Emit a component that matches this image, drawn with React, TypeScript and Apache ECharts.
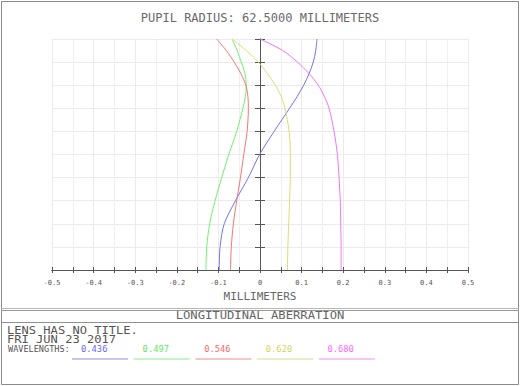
import React, { useEffect, useRef } from 'react';
import * as echarts from 'echarts';

// Normalized pupil height (vertical axis)
const pupilHeights = [0, 0.1, 0.2, 0.3, 0.4, 0.5, 0.6, 0.7, 0.75, 0.8, 0.85, 0.9, 0.95, 1.0];

// Longitudinal focus shift (mm) per wavelength
const shift436 = [-0.098, -0.096, -0.086, -0.059, -0.028, -0.001, 0.034, 0.071, 0.089, 0.105, 0.118, 0.128, 0.134, 0.137];
const shift497 = [-0.130, -0.128, -0.121, -0.108, -0.092, -0.075, -0.056, -0.041, -0.035, -0.033, -0.036, -0.045, -0.055, -0.067];
const shift546 = [-0.071, -0.069, -0.064, -0.056, -0.047, -0.039, -0.031, -0.028, -0.029, -0.034, -0.046, -0.062, -0.081, -0.104];
const shift620 = [0.066, 0.067, 0.069, 0.071, 0.073, 0.073, 0.070, 0.060, 0.051, 0.037, 0.018, -0.004, -0.033, -0.067];
const shift680 = [0.195, 0.195, 0.194, 0.193, 0.190, 0.186, 0.178, 0.166, 0.155, 0.140, 0.118, 0.090, 0.055, 0.0];

const wavelengths = ['0.436', '0.497', '0.546', '0.620', '0.680'];
const shifts = [shift436, shift497, shift546, shift620, shift680];

const xTickLabels = ['-0.5', '-0.4', '-0.3', '-0.2', '-0.1', '0', '0.1', '0.2', '0.3', '0.4', '0.5'];

const lineColors = ['#7272f6', '#72f072', '#f67474', '#dcdc74', '#f674f6'];
const textColors = ['#6868ff', '#62e862', '#ff6868', '#d4d45e', '#ff68ff'];
const underlineColors = ['#b4b4ec', '#b4f0b4', '#f0b4b4', '#e6e6b4', '#f0b4f0'];

const titleText = 'PUPIL RADIUS: 62.5000 MILLIMETERS';
const axisName = 'MILLIMETERS';
const plotName = 'LONGITUDINAL ABERRATION';
const lensLines = ['LENS HAS NO TITLE.', 'FRI JUN 23 2017'];
const wlLabel = 'WAVELENGTHS:';

const MONO = '"DejaVu Sans Mono", "Liberation Mono", monospace';

export default function App() {
  const ref = useRef<HTMLDivElement>(null);

  useEffect(() => {
    if (!ref.current) return;
    const chart = echarts.init(ref.current, undefined, { renderer: 'svg' });

    const series = wavelengths.map((w, i) => ({
      type: 'line',
      name: w,
      data: pupilHeights.map((y, j) => [shifts[i][j], y]),
      smooth: 0.3,
      showSymbol: false,
      symbol: 'none',
      xAxisIndex: 0,
      yAxisIndex: 0,
      lineStyle: { width: 1, color: lineColors[i] },
      itemStyle: { color: lineColors[i] },
      z: 3,
    }));

    const graphics: any[] = [
      {
        type: 'rect',
        shape: { x: 1.5, y: 1.5, width: 517, height: 383 },
        style: { fill: 'none', stroke: '#8a8a8a', lineWidth: 1 },
        silent: true,
      },
      { type: 'line', shape: { x1: 1, y1: 308.5, x2: 519, y2: 308.5 }, style: { stroke: '#b8b8b8', lineWidth: 1 } },
      { type: 'line', shape: { x1: 1, y1: 310.5, x2: 519, y2: 310.5 }, style: { stroke: '#999999', lineWidth: 1 } },
      { type: 'line', shape: { x1: 1, y1: 322.5, x2: 519, y2: 322.5 }, style: { stroke: '#909090', lineWidth: 1 } },
      {
        type: 'text',
        x: 260,
        y: 316,
        scaleX: 1.22,
        style: { text: plotName, fill: '#666', font: `10px ${MONO}`, textAlign: 'center', textVerticalAlign: 'middle' },
      },
      ...lensLines.map((t, i) => ({
        type: 'text',
        x: 7,
        y: 330.5 + i * 9,
        scaleX: 1.21,
        style: { text: t, fill: '#555', font: `10px ${MONO}`, textAlign: 'left', textVerticalAlign: 'middle' },
      })),
      {
        type: 'text',
        x: 8,
        y: 349.5,
        scaleX: 1.07,
        style: { text: wlLabel, fill: '#555', font: `8px ${MONO}`, textAlign: 'left', textVerticalAlign: 'middle' },
      },
      ...wavelengths.map((w, i) => ({
        type: 'text',
        x: 81 + i * 61.6,
        y: 349.5,
        scaleX: 1.1,
        style: { text: w, fill: textColors[i], font: `8px ${MONO}`, textAlign: 'left', textVerticalAlign: 'middle' },
      })),
      ...wavelengths.map((w, i) => ({
        type: 'line',
        shape: { x1: 72 + i * 61.7, y1: 359, x2: 128 + i * 61.7, y2: 359 },
        style: { stroke: underlineColors[i], lineWidth: 1.5 },
      })),
    ];

    const commonX = {
      type: 'value',
      min: -0.5,
      max: 0.5,
      interval: 0.1,
      axisLine: { onZero: false, lineStyle: { color: '#555', width: 1 } },
    };
    const commonY = {
      type: 'value',
      min: 0,
      max: 1,
      interval: 0.1,
      position: 'left',
      axisLabel: { show: false },
      axisLine: { show: true, onZero: true, onZeroAxisIndex: 0, lineStyle: { color: '#555', width: 1 } },
    };

    chart.setOption({
      animation: false,
      backgroundColor: '#ffffff',
      title: {
        text: titleText,
        left: 'center',
        top: 12,
        padding: 0,
        textStyle: { fontFamily: MONO, fontSize: 12, fontWeight: 'normal', color: '#6a6a6a' },
      },
      grid: { left: 52, right: 52, top: 39, bottom: 116, containLabel: false },
      xAxis: [
        {
          ...commonX,
          name: axisName,
          nameLocation: 'middle',
          nameGap: 16,
          nameTextStyle: { fontFamily: MONO, fontSize: 11, color: '#666' },
          axisTick: { show: true, inside: true, length: 3, lineStyle: { color: '#555' } },
          minorTick: { show: true, splitNumber: 2, length: 3, lineStyle: { color: '#555' } },
          axisLabel: {
            show: true,
            margin: 9,
            fontFamily: MONO,
            fontSize: 7,
            color: '#555',
            formatter: (v: number) => {
              const i = Math.round((v + 0.5) * 10);
              return xTickLabels[i] ?? '';
            },
          },
          splitLine: { show: true, lineStyle: { color: '#ebebeb', width: 1 } },
          minorSplitLine: { show: true, lineStyle: { color: '#efefef', width: 1 } },
        },
        {
          ...commonX,
          position: 'bottom',
          axisTick: { show: true, inside: false, length: 3, lineStyle: { color: '#555' } },
          minorTick: { show: true, splitNumber: 2, length: 3, lineStyle: { color: '#555' } },
          axisLabel: { show: false },
          splitLine: { show: false },
        },
      ],
      yAxis: [
        {
          ...commonY,
          axisTick: { show: true, inside: false, length: 5, lineStyle: { color: '#555' } },
          splitLine: { show: true, lineStyle: { color: '#ebebeb', width: 1 } },
        },
        {
          ...commonY,
          axisTick: { show: true, inside: true, length: 5, lineStyle: { color: '#555' } },
          splitLine: { show: false },
        },
      ],
      series,
      graphic: graphics,
    });

    return () => chart.dispose();
  }, []);

  return (
    <div
      ref={ref}
      style={{ position: 'absolute', left: 0, top: 0, width: 520, height: 386, background: '#fff' }}
    />
  );
}
